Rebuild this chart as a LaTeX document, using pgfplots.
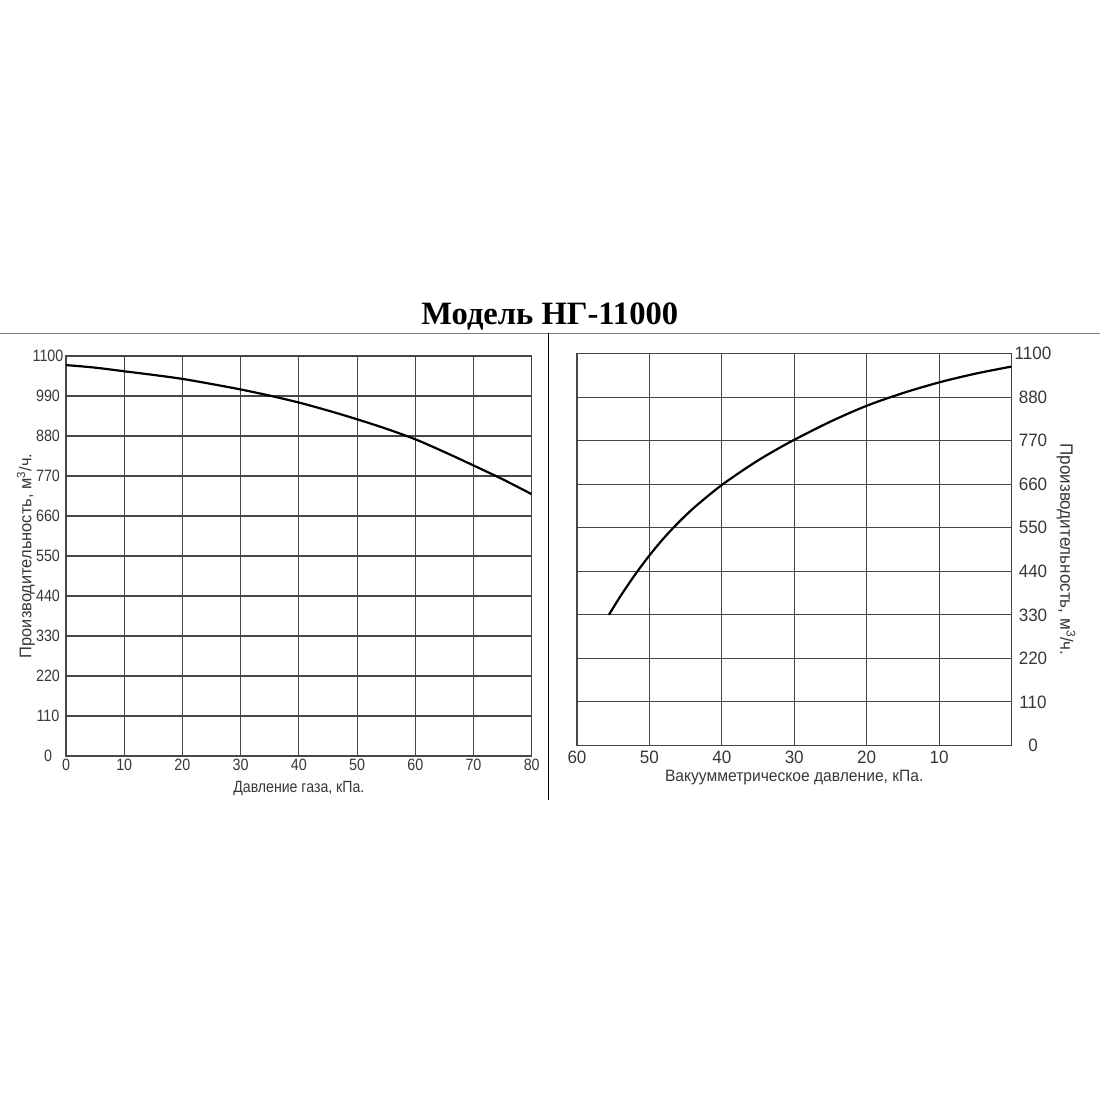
\documentclass[border=0pt]{standalone}
\usepackage{fontspec}
\usepackage{pgfplots}
\pgfplotsset{compat=1.18}
\setmainfont{Liberation Sans}
\newfontfamily\leftfont[FakeStretch=0.87]{Liberation Sans}
\newfontfamily\leftlabfont[FakeStretch=0.97]{Liberation Sans}
\newfontfamily\rightfont[FakeStretch=0.95]{Liberation Sans}
\newfontfamily\titlefont{Liberation Serif}
\definecolor{gridc}{RGB}{70,70,70}
\definecolor{txt}{RGB}{55,55,55}
\definecolor{sepc}{RGB}{125,125,125}

\pgfplotstableread{
x y
0 1075
5 1068
10 1058
15 1048
20 1037
25 1023
30 1008
35 991
40 972
45 950
50 926
55 900
60 871
65 836
70 799
75 761
80 720
}\leftdata

\pgfplotstableread{
x y
55.6 330
54 377
52 431
50 480
48 524
46 563
44 598
42 629
40 658
37.5 690
35 720
32.5 747
30 772
25 818
20 858
15 890
10 917
5 939
0 957
}\rightdata

\begin{document}
\begin{tikzpicture}
\path[use as bounding box] (0bp,0bp) rectangle (1100bp,1100bp);
% title and separators
\node[anchor=base, inner sep=0pt, text=black] at (549.7bp,775bp)
  {\titlefont\bfseries\fontsize{32.7}{33}\selectfont Модель НГ-11000};
\draw[sepc, line width=1.5bp] (0bp,766.7bp) -- (1100bp,766.7bp);
\draw[black, line width=1.2bp] (548.6bp,766.7bp) -- (548.6bp,300bp);

\begin{axis}[
  at={(66bp,344bp)}, anchor=south west,
  width=465.7bp, height=400bp, scale only axis,
  xmin=0, xmax=80, ymin=0, ymax=1100,
  xtick={0,10,...,80}, ytick={0,110,...,1100},
  grid=major,
  major grid style={color=gridc, line width=1.1bp},
  axis line style={color=gridc, line width=1.2bp},
  tick style={draw=none},
  /pgf/number format/assume math mode=true,
  /pgf/number format/1000 sep={},
  ticklabel style={font=\leftfont\fontsize{16.5}{16}\selectfont, text=txt},
  yticklabel style={anchor=center, xshift=-18bp},
  xlabel={Давление газа, кПа.},
  ylabel={Производительность, м\textsuperscript{3}/ч.},
  xlabel style={at={(axis description cs:0.5,-0.0825)}, anchor=center,
    font=\leftfont\fontsize{16.3}{16}\selectfont, text=txt},
  ylabel style={at={(axis description cs:-0.086,0.5)}, anchor=center,
    font=\leftlabfont\fontsize{17}{17}\selectfont, text=txt},
]
\addplot[black, line width=2.2bp, smooth] table[x=x, y=y] {\leftdata};
\end{axis}

\begin{axis}[
  at={(577bp,354.5bp)}, anchor=south west,
  width=434.5bp, height=392bp, scale only axis,
  xmin=0, xmax=60, ymin=0, ymax=990, x dir=reverse,
  xtick={0,10,...,60}, xticklabels={,10,20,30,40,50,60},
  ytick={0,110,...,990}, yticklabels={0,110,220,330,440,550,660,770,880,1100},
  yticklabel pos=right,
  grid=major,
  major grid style={color=gridc, line width=1.1bp},
  axis line style={color=gridc, line width=1.2bp},
  tick style={draw=none},
  /pgf/number format/assume math mode=true,
  ticklabel style={font=\rightfont\fontsize{18}{18}\selectfont, text=txt},
  xticklabel style={yshift=-1.5bp},
  yticklabel style={anchor=center, xshift=21.5bp},
  xlabel={Вакуумметрическое давление, кПа.},
  ylabel={Производительность, м\textsuperscript{3}/ч.},
  xlabel style={at={(axis description cs:0.5,-0.083)}, anchor=center,
    font=\rightfont\fontsize{16.5}{16.5}\selectfont, text=txt},
  ylabel style={at={(axis description cs:1.1254,0.5)}, anchor=center, rotate=180,
    font=\rightfont\fontsize{18}{18}\selectfont, text=txt},
]
\draw[gridc, line width=1.8bp] (axis cs:60,0) -- (axis cs:60,550);
\addplot[black, line width=2.2bp, smooth] table[x=x, y=y] {\rightdata};
\end{axis}
\end{tikzpicture}
\end{document}
